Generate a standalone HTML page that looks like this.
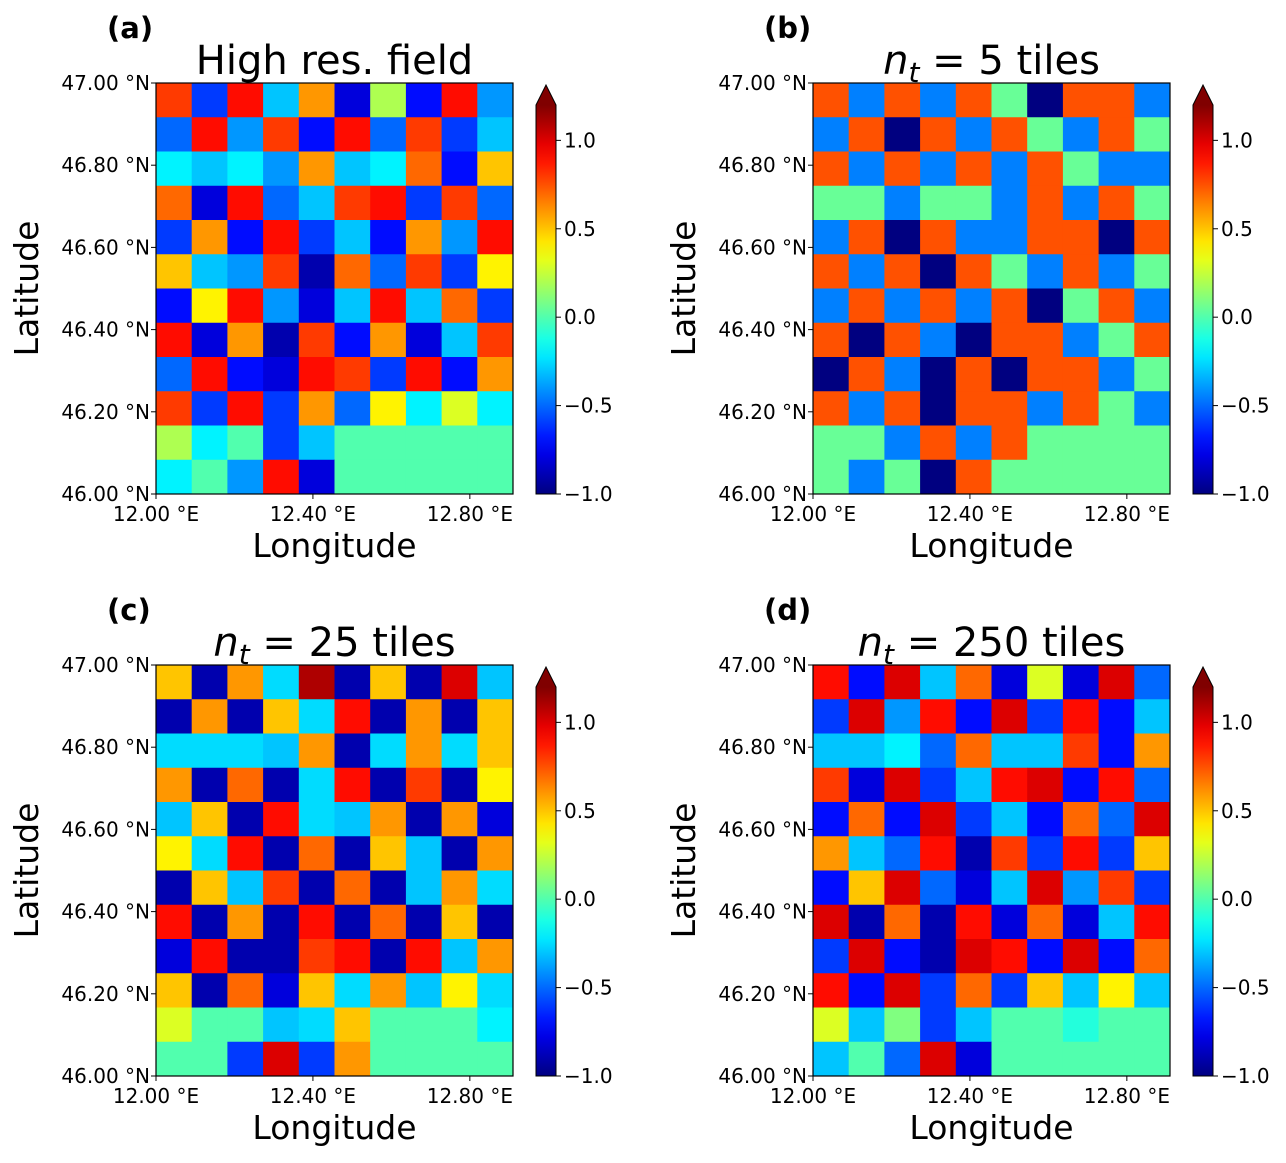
<!DOCTYPE html>
<html><head><meta charset="utf-8">
<style>
body{margin:0;background:#fff;}
svg text{font-family:"DejaVu Sans","Liberation Sans",sans-serif;fill:#000;}
</style></head>
<body>
<svg id="fig" width="1286" height="1158" viewBox="0 0 1286 1158" xmlns="http://www.w3.org/2000/svg">
<defs id="defs"></defs>
</svg>
<script>
const latTicks=[47.0,46.8,46.6,46.4,46.2,46.0];
const latLabels=["47.00 °N","46.80 °N","46.60 °N","46.40 °N","46.20 °N","46.00 °N"];
const lonTicks=[12.0,12.4,12.8];
const lonLabels=["12.00 °E","12.40 °E","12.80 °E"];
const cbTicks=[1.0,0.5,0.0,-0.5,-1.0];
const cbLabels=["1.0","0.5","0.0","\u22120.5","\u22121.0"];
const fieldA=[
[0.8,-0.6,0.9,-0.3,0.6,-0.8,0.2,-0.7,0.9,-0.4],
[-0.5,0.9,-0.4,0.8,-0.7,0.9,-0.5,0.8,-0.6,-0.3],
[-0.2,-0.3,-0.2,-0.4,0.6,-0.3,-0.2,0.7,-0.7,0.5],
[0.7,-0.8,0.9,-0.5,-0.3,0.8,0.9,-0.6,0.8,-0.5],
[-0.6,0.6,-0.7,0.9,-0.6,-0.3,-0.7,0.6,-0.4,0.9],
[0.5,-0.3,-0.4,0.8,-0.9,0.7,-0.5,0.8,-0.6,0.4],
[-0.7,0.4,0.9,-0.4,-0.8,-0.3,0.9,-0.3,0.7,-0.6],
[0.9,-0.8,0.6,-0.9,0.8,-0.7,0.6,-0.8,-0.3,0.8],
[-0.5,0.9,-0.7,-0.8,0.9,0.8,-0.6,0.9,-0.7,0.6],
[0.8,-0.6,0.9,-0.6,0.6,-0.5,0.4,-0.2,0.3,-0.2],
[0.2,-0.2,0.0,-0.6,-0.3,0.0,0.0,0.0,0.0,0.0],
[-0.2,0.0,-0.4,0.9,-0.8,0.0,0.0,0.0,0.0,0.0]];
const fieldB=[
[0.75,-0.45,0.75,-0.45,0.75,0.05,-1,0.75,0.75,-0.45],
[-0.45,0.75,-1,0.75,-0.45,0.75,0.05,-0.45,0.75,0.05],
[0.75,-0.45,0.75,-0.45,0.75,-0.45,0.75,0.05,-0.45,-0.45],
[0.05,0.05,-0.45,0.05,0.05,-0.45,0.75,-0.45,0.75,0.05],
[-0.45,0.75,-1,0.75,-0.45,-0.45,0.75,0.75,-1,0.75],
[0.75,-0.45,0.75,-1,0.75,0.05,-0.45,0.75,-0.45,0.05],
[-0.45,0.75,-0.45,0.75,-0.45,0.75,-1,0.05,0.75,-0.45],
[0.75,-1,0.75,-0.45,-1,0.75,0.75,-0.45,0.05,0.75],
[-1,0.75,-0.45,-1,0.75,-1,0.75,0.75,-0.45,0.05],
[0.75,-0.45,0.75,-1,0.75,0.75,-0.45,0.75,0.05,-0.45],
[0.05,0.05,-0.45,0.75,-0.45,0.75,0.05,0.05,0.05,0.05],
[0.05,-0.45,0.05,-1,0.75,0.05,0.05,0.05,0.05,0.05]];
const fieldC=[
[0.5,-0.9,0.6,-0.25,1.1,-0.9,0.5,-0.9,1.0,-0.3],
[-0.9,0.6,-0.9,0.5,-0.25,0.9,-0.9,0.6,-0.9,0.5],
[-0.25,-0.25,-0.25,-0.3,0.6,-0.9,-0.25,0.6,-0.25,0.5],
[0.6,-0.9,0.7,-0.9,-0.25,0.9,-0.9,0.8,-0.9,0.4],
[-0.3,0.5,-0.9,0.9,-0.25,-0.3,0.6,-0.9,0.6,-0.8],
[0.4,-0.25,0.9,-0.9,0.7,-0.9,0.5,-0.3,-0.9,0.6],
[-0.9,0.5,-0.3,0.8,-0.9,0.7,-0.9,-0.3,0.6,-0.25],
[0.9,-0.9,0.6,-0.9,0.9,-0.9,0.7,-0.9,0.5,-0.9],
[-0.8,0.9,-0.9,-0.9,0.8,0.9,-0.9,0.9,-0.3,0.6],
[0.5,-0.9,0.7,-0.8,0.5,-0.25,0.6,-0.3,0.4,-0.25],
[0.3,0.0,0.0,-0.3,-0.25,0.5,0.0,0.0,0.0,-0.2],
[0.0,0.0,-0.6,1.0,-0.6,0.6,0.0,0.0,0.0,0.0]];
const fieldD=[
[0.9,-0.7,1.0,-0.3,0.7,-0.8,0.3,-0.8,1.0,-0.5],
[-0.6,1.0,-0.4,0.9,-0.7,1.0,-0.6,0.9,-0.7,-0.3],
[-0.3,-0.3,-0.2,-0.5,0.7,-0.3,-0.3,0.8,-0.7,0.6],
[0.8,-0.8,1.0,-0.6,-0.3,0.9,1.0,-0.7,0.9,-0.5],
[-0.7,0.7,-0.7,1.0,-0.6,-0.3,-0.7,0.7,-0.5,1.0],
[0.6,-0.3,-0.5,0.9,-0.9,0.8,-0.6,0.9,-0.6,0.5],
[-0.7,0.5,1.0,-0.5,-0.8,-0.3,1.0,-0.4,0.8,-0.6],
[1.0,-0.9,0.7,-0.9,0.9,-0.8,0.7,-0.8,-0.3,0.9],
[-0.6,1.0,-0.7,-0.9,1.0,0.9,-0.7,1.0,-0.7,0.7],
[0.9,-0.7,1.0,-0.6,0.7,-0.6,0.5,-0.3,0.4,-0.3],
[0.3,-0.3,0.1,-0.6,-0.3,0.0,0.0,-0.1,0.0,0.0],
[-0.3,0.0,-0.5,1.0,-0.8,0.0,0.0,0.0,0.0,0.0]];
const panels=[
 {id:"a",x:156,y:83,field:fieldA,title:"High res. field",nt:null},
 {id:"b",x:813,y:83,field:fieldB,title:null,nt:"5"},
 {id:"c",x:156,y:665,field:fieldC,title:null,nt:"25"},
 {id:"d",x:813,y:665,field:fieldD,title:null,nt:"250"}];
const VMIN=-1,VMAX=1.2,PW=357,PH=411,LON0=12.0,LON1=12.91,LAT0=46.0,LAT1=47.0;
const NS="http://www.w3.org/2000/svg";
const svg=document.getElementById('fig');
function jet(v){let t=(v-VMIN)/(VMAX-VMIN);t=Math.max(0,Math.min(1,t));
 const c=x=>Math.round(255*Math.max(0,Math.min(1,1.5-Math.abs(4*t-x))));
 return `rgb(${c(3)},${c(2)},${c(1)})`;}
function el(tag,attrs,parent){const e=document.createElementNS(NS,tag);for(const k in attrs)e.setAttribute(k,attrs[k]);(parent||svg).appendChild(e);return e;}
const grad=el('linearGradient',{id:'jetgrad',x1:0,y1:1,x2:0,y2:0},document.getElementById('defs'));
for(let i=0;i<=20;i++){const v=VMIN+(VMAX-VMIN)*i/20;el('stop',{offset:i/20,'stop-color':jet(v)},grad);}
panels.forEach(p=>{
 const g=el('g',{});
 
 
 const xs=lon=>p.x+(lon-LON0)/(LON1-LON0)*PW;
 const ys=lat=>p.y+(LAT1-lat)/(LAT1-LAT0)*PH;
 const rows=p.field.length,cols=p.field[0].length;
 const hm=el('g',{},g);
 
 
 p.field.forEach((row,r)=>row.forEach((v,c)=>{
  const lonA=LON0+(LON1-LON0)*c/cols,lonB=LON0+(LON1-LON0)*(c+1)/cols;
  const latA=LAT1-(LAT1-LAT0)*r/rows,latB=LAT1-(LAT1-LAT0)*(r+1)/rows;
  const rc=el('rect',{x:xs(lonA),y:ys(latA),width:xs(lonB)-xs(lonA)+0.5,height:ys(latB)-ys(latA)+0.5,fill:jet(v)},hm);
  
  
 }));
 const fr=el('rect',{x:p.x,y:p.y,width:PW,height:PH,fill:'none',stroke:'#000','stroke-width':1.2},g);
 
 
 latTicks.forEach((t,i)=>{const y=ys(t);
  el('line',{x1:p.x-5,x2:p.x,y1:y,y2:y,stroke:'#000'},g);
  const tx=el('text',{x:p.x-6,y:y+7,'font-size':20,'text-anchor':'end'},g);tx.textContent=latLabels[i];
  
  });
 lonTicks.forEach((t,i)=>{const x=xs(t);
  el('line',{x1:x,x2:x,y1:p.y+PH,y2:p.y+PH+5,stroke:'#000'},g);
  const tx=el('text',{x:x,y:p.y+PH+27,'font-size':20,'text-anchor':'middle'},g);tx.textContent=lonLabels[i];
  
  });
 const xl=el('text',{x:p.x+PW/2,y:p.y+PH+63,'font-size':33,'text-anchor':'middle'},g);xl.textContent='Longitude';
 
 
 const yl=el('text',{x:0,y:0,'font-size':33,'text-anchor':'middle',transform:`translate(${p.x-118},${p.y+PH/2}) rotate(-90)`},g);yl.textContent='Latitude';
 
 
 const pl=el('text',{x:p.x-49,y:p.y-45,'font-size':29,'font-weight':'bold'},g);pl.textContent='('+p.id+')';
 
 
 const ti=el('text',{x:p.x+PW/2,y:p.y-9,'font-size':40,'text-anchor':'middle'},g);
 
 
 if(p.title){ti.textContent=p.title;}else{
  const a=el('tspan',{'font-style':'italic'},ti);a.textContent='n';
  const b=el('tspan',{'font-style':'italic','font-size':28,dy:8},ti);b.textContent='t';
  const c2=el('tspan',{dy:-8},ti);c2.textContent=' = '+p.nt+' tiles';}
 const cx=p.x+380,cw=20,cbs=v=>p.y+PH-(v-VMIN)/(VMAX-VMIN)*389;
 const cb=el('g',{},g);
 
 
 el('rect',{x:cx,y:cbs(VMAX),width:cw,height:cbs(VMIN)-cbs(VMAX),fill:'url(#jetgrad)'},cb);
 el('polygon',{points:`${cx},${cbs(VMAX)} ${cx+cw/2},${p.y+2} ${cx+cw},${cbs(VMAX)}`,fill:'#800000'},cb);
 el('polygon',{points:`${cx},${cbs(VMIN)} ${cx},${cbs(VMAX)} ${cx+cw/2},${p.y+2} ${cx+cw},${cbs(VMAX)} ${cx+cw},${cbs(VMIN)}`,fill:'none',stroke:'#000','stroke-width':1},cb);
 cbTicks.forEach((t,i)=>{const y=cbs(t);
  el('line',{x1:cx+cw,x2:cx+cw+5,y1:y,y2:y,stroke:'#000'},cb);
  const tx=el('text',{x:cx+cw+8,y:y+7,'font-size':20},cb);tx.textContent=cbLabels[i];
  
  });
});
</script>
</body></html>
